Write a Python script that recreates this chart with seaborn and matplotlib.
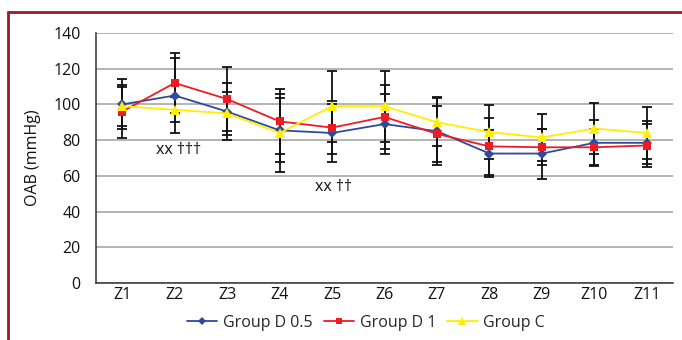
import matplotlib.pyplot as plt
import seaborn as sns
import numpy as np
import pandas as pd
from matplotlib.lines import Line2D
from matplotlib.ticker import MultipleLocator

# --- Data ---
categories = ["Z1", "Z2", "Z3", "Z4", "Z5", "Z6", "Z7", "Z8", "Z9", "Z10", "Z11"]
groups = ["Group D 0.5", "Group D 1", "Group C"]

d05_mean = [100, 105, 96, 85.5, 84, 89, 85, 72.5, 72.5, 78.5, 78.5]
d05_sd = [14, 21, 16, 18, 16, 17, 19, 13, 14, 13, 12]

d1_mean = [96, 112, 103, 90.5, 87, 93, 83.5, 76.5, 76, 76, 77]
d1_sd = [15, 17, 18, 18, 15, 18, 15.5, 16, 10, 10, 12]

c_mean = [99, 97, 95, 84, 99, 99, 90, 84.5, 81.5, 86.5, 84]
c_sd = [11, 7, 12, 22, 20, 20, 13.5, 15, 13, 14.5, 14.5]

annotations = [("xx \u2020\u2020\u2020", 1.07, 74.5), ("xx \u2020\u2020", 4.02, 54)]

colors = {"Group D 0.5": "#2e4a9c", "Group D 1": "#ed1c24", "Group C": "#ffee00"}
markers = {"Group D 0.5": "D", "Group D 1": "s", "Group C": "^"}
msizes = {"Group D 0.5": 5.5, "Group D 1": 6, "Group C": 7}

means = {"Group D 0.5": d05_mean, "Group D 1": d1_mean, "Group C": c_mean}
sds = {"Group D 0.5": d05_sd, "Group D 1": d1_sd, "Group C": c_sd}

rows = []
for g in groups:
    for i, m in enumerate(means[g]):
        rows.append({"pos": i, "value": m, "group": g})
df = pd.DataFrame(rows)

# --- Plot ---
sns.set_theme(style="white")
plt.rcParams["font.family"] = ["Open Sans", "DejaVu Sans"]
fs = 11.5
txt_col = "#111111"

fig = plt.figure(figsize=(6.82, 3.40), dpi=100)
ax = fig.add_axes([96 / 682, 1 - 283 / 340, (673 - 96) / 682, (283 - 33) / 340])

ax.yaxis.grid(True, color="#b3b3b3", linewidth=1.4)
ax.set_axisbelow(True)

# error bars first (black, behind the lines)
x = np.arange(len(categories))
for g in groups:
    ax.errorbar(x, means[g], yerr=sds[g], fmt="none", ecolor="#111111",
                elinewidth=1.3, capsize=3.6, capthick=1.3, zorder=2)

sns.lineplot(data=df, x="pos", y="value", hue="group", style="group",
             palette=colors, markers=markers, dashes=False, ax=ax,
             linewidth=1.3, markeredgewidth=0, legend=False, zorder=3)
for line, g in zip(ax.get_lines()[-3:], groups):
    line.set_markersize(msizes[g])

for txt, xp, yp in annotations:
    ax.text(xp, yp, txt, ha="center", va="center", fontsize=fs, color=txt_col)

ax.set_xlim(-0.5, len(categories) - 0.5)
ax.set_ylim(0, 140)
ax.yaxis.set_major_locator(MultipleLocator(20))
ax.set_xticks(x)
ax.set_xticklabels(categories)
ax.set_xticks(np.arange(-0.5, len(categories)), minor=True)
ax.tick_params(axis="x", which="major", length=0, labelsize=fs, pad=3, colors=txt_col)
ax.tick_params(axis="x", which="minor", length=5, width=1, direction="out", color="#333333")
ax.tick_params(axis="y", length=7, width=1, direction="out", labelsize=fs, pad=4,
               colors=txt_col)
ax.set_xlabel("")
ax.set_ylabel("OAB (mmHg)", fontsize=fs, labelpad=9, color=txt_col)

for s in ["top", "right"]:
    ax.spines[s].set_visible(False)
for s in ["left", "bottom"]:
    ax.spines[s].set_color("#333333")
    ax.spines[s].set_linewidth(1.1)

handles = [Line2D([], [], color=colors[g], marker=markers[g], markersize=msizes[g] - 1,
                  markeredgewidth=0, linewidth=1.3) for g in groups]
fig.legend(handles, groups, loc="center", bbox_to_anchor=(366 / 682, 1 - 323 / 340),
           ncol=3, frameon=False, fontsize=fs, handlelength=1.9, handletextpad=0.35,
           columnspacing=0.7)

# dark red frame of the original figure panel
frame = "#9b1b22"
fig.add_artist(Line2D([8 / 682, 1], [1 - 12 / 340, 1 - 12 / 340], color=frame,
                      linewidth=2, transform=fig.transFigure))
fig.add_artist(Line2D([8 / 682, 8 / 682], [0, 1 - 12 / 340], color=frame,
                      linewidth=2, transform=fig.transFigure))

fig.savefig("out.png", dpi=100)
